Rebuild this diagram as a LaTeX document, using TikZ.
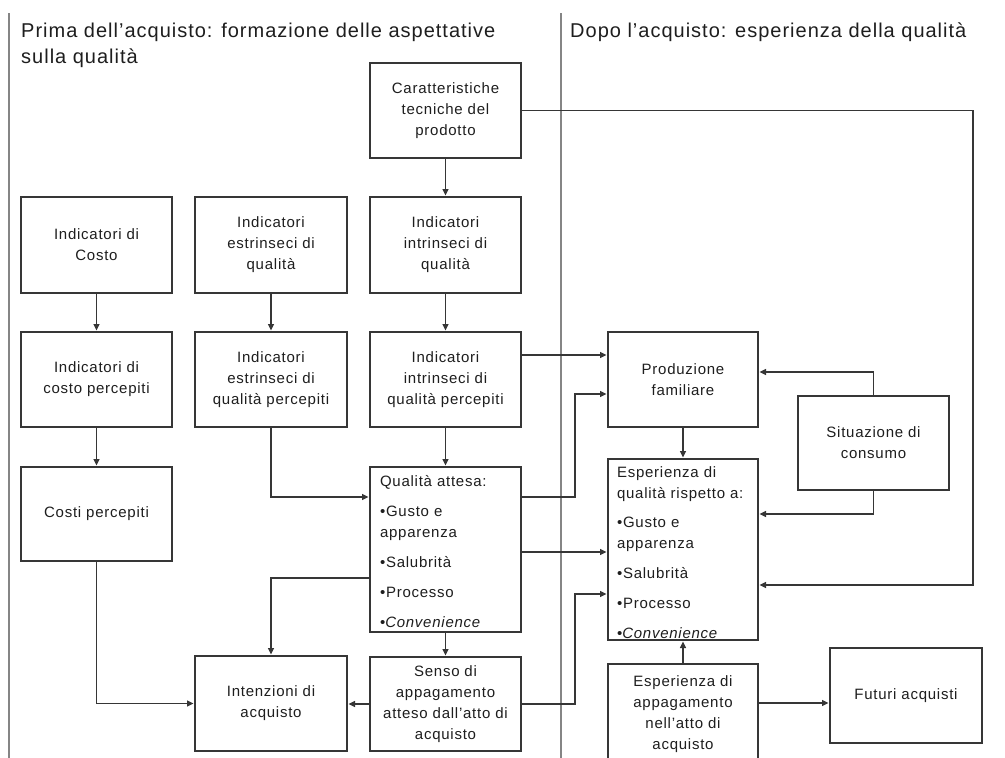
\documentclass[tikz,border=0pt]{standalone}
\usepackage{fontspec}
\setmainfont{Liberation Sans}[LetterSpace=5]
\usetikzlibrary{arrows.meta}
\definecolor{ink}{HTML}{1E1E1E}
\definecolor{edge}{HTML}{363636}
\definecolor{divider}{HTML}{858585}
\begin{document}
\begin{tikzpicture}[x=1pt,y=-1pt,
  box/.style={draw=edge, line width=1.3pt, inner sep=0pt, outer sep=0pt,
    align=center, text=ink, font=\fontsize{15}{21}\selectfont},
  listbox/.style={box, align=left},
  link/.style={draw=edge, line width=1.1pt, -{Triangle[length=6.5pt,width=6pt]}, shorten >=1.5pt},
  title/.style={anchor=base west, inner sep=0pt, text=ink, font=\fontsize{20}{26}\selectfont}]
\path[use as bounding box, fill=white] (0,0) rectangle (1005,758);
% section dividers
\draw[divider, line width=2pt] (9,13) -- (9,760);
\draw[divider, line width=2pt] (561,13) -- (561,760);
% titles
\node[title] (t1) at (21,37) {Prima dell'acquisto: formazione delle aspettative};
\node[title] (t2) at (21,63) {sulla qualità};
\node[title] (t3) at (570,37) {Dopo l'acquisto: esperienza della qualità};
% boxes, left part
\node[box, minimum width=151pt, minimum height=95pt] (car) at (445.5,110.5) {Caratteristiche\\tecniche del\\prodotto};
\node[box, minimum width=151pt, minimum height=96pt] (ic) at (96.5,245) {Indicatori di\\Costo};
\node[box, minimum width=152pt, minimum height=96pt] (ie) at (271,245) {Indicatori\\estrinseci di\\qualità};
\node[box, minimum width=151pt, minimum height=96pt] (ii) at (445.5,245) {Indicatori\\intrinseci di\\qualità};
\node[box, minimum width=151pt, minimum height=95pt] (icp) at (96.5,379.5) {Indicatori di\\costo percepiti};
\node[box, minimum width=152pt, minimum height=95pt] (iep) at (271,379.5) {Indicatori\\estrinseci di\\qualità percepiti};
\node[box, minimum width=151pt, minimum height=95pt] (iip) at (445.5,379.5) {Indicatori\\intrinseci di\\qualità percepiti};
\node[box, minimum width=151pt, minimum height=94pt] (cp) at (96.5,514) {Costi percepiti};
\node[listbox, minimum width=151pt, minimum height=165pt, text width=131pt] (qa) at (445.5,549.5)
  {\rule{0pt}{15pt}Qualità attesa:\\[9pt]•Gusto e\\apparenza\\[9pt]•Salubrità\\[9pt]•Processo\\[9pt]•\textit{Convenience}};
\node[box, minimum width=152pt, minimum height=95pt] (int) at (271,703.5) {Intenzioni di\\acquisto};
\node[box, minimum width=151pt, minimum height=94pt] (senso) at (445.5,704) {Senso di\\appagamento\\atteso dall'atto di\\acquisto};
% boxes, right part
\node[box, minimum width=150pt, minimum height=95pt] (prod) at (683,379.5) {Produzione\\familiare};
\node[box, minimum width=151pt, minimum height=94pt] (sit) at (873.5,443) {Situazione di\\consumo};
\node[listbox, minimum width=150pt, minimum height=181pt, text width=132pt] (esp) at (683,549.5)
  {\rule{0pt}{17pt}Esperienza di\\\mbox{qualità rispetto a:}\\[8pt]•Gusto e\\apparenza\\[9pt]•Salubrità\\[9pt]•Processo\\[9pt]•\textit{Convenience}};
\node[box, minimum width=150pt, minimum height=100pt] (app) at (683,714) {Esperienza di\\appagamento\\nell'atto di\\acquisto};
\node[box, minimum width=152pt, minimum height=95pt] (fut) at (906,695.5) {Futuri acquisti};
% connectors
\draw[link] (car.south) -- (ii.north);
\draw[link] (ic.south) -- (icp.north);
\draw[link] (ie.south) -- (iep.north);
\draw[link] (ii.south) -- (iip.north);
\draw[link] (icp.south) -- (cp.north);
\draw[link] (iip.south) -- (qa.north);
\draw[link] (iep.south) |- (qa.west |- 0,497);
\draw[link] (qa.west |- 0,578) -| (int.north);
\draw[link] (cp.south) |- (int.west);
\draw[link] (qa.south) -- (senso.north);
\draw[link] (senso.west) -- (int.east |- senso.west);
\draw[link] (senso.east) -| (575,594) -- (esp.west |- 0,594);
\draw[link] (qa.east |- 0,497) -| (575,394) -- (prod.west |- 0,394);
\draw[link] (qa.east |- 0,552) -- (esp.west |- 0,552);
\draw[link] (iip.east |- 0,355) -- (prod.west |- 0,355);
\draw[link] (car.east) -| (973,585) -- (esp.east |- 0,585);
\draw[link] (sit.north) |- (prod.east |- 0,372);
\draw[link] (sit.south) |- (esp.east |- 0,514);
\draw[link] (prod.south) -- (esp.north);
\draw[link] (app.north) -- (esp.south);
\draw[link] (app.east |- 0,703) -- (fut.west |- 0,703);
\end{tikzpicture}
\end{document}
